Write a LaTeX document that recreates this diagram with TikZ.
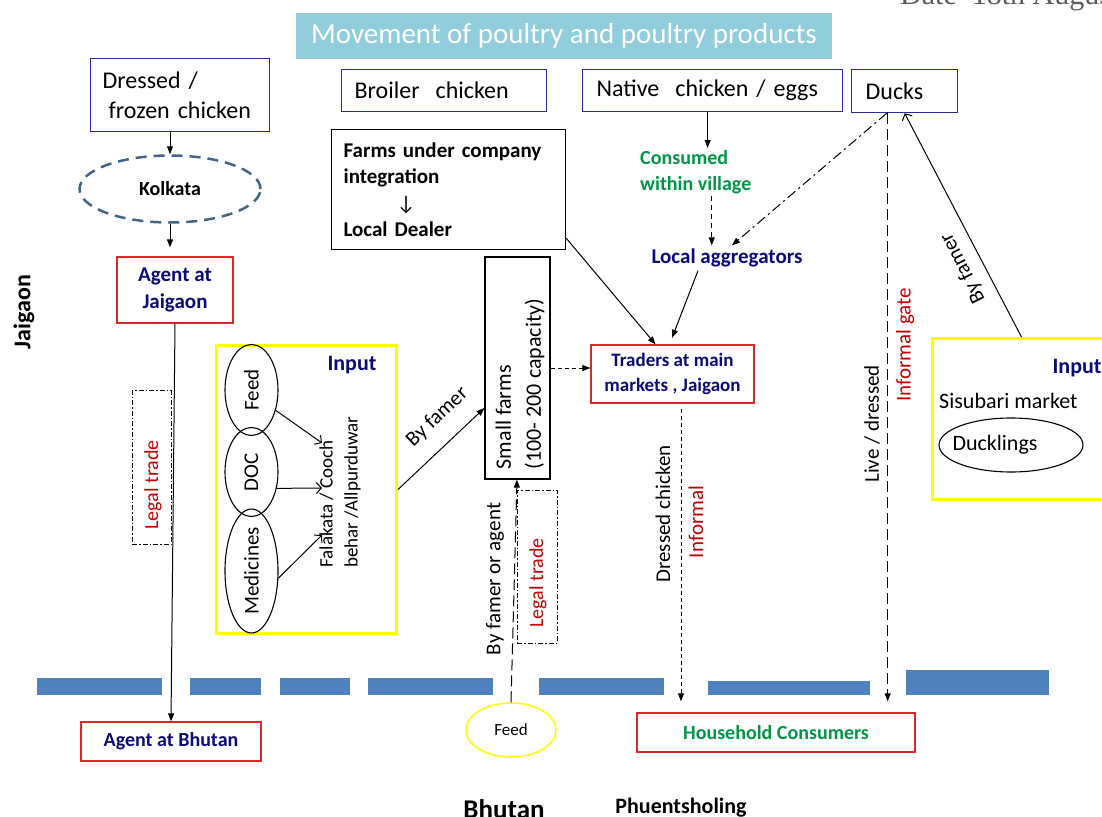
\documentclass[tikz,border=0pt]{standalone}
\usepackage{fontspec}
\setmainfont{Carlito}
\newfontfamily\datefont{Liberation Serif}
\usetikzlibrary{arrows.meta,shapes.geometric}

\definecolor{titleblue}{RGB}{146,205,221}
\definecolor{boxblue}{RGB}{40,40,150}
\definecolor{boxred}{RGB}{220,40,40}
\definecolor{navytext}{RGB}{10,10,120}
\definecolor{redtext}{RGB}{192,0,0}
\definecolor{greentext}{RGB}{0,150,70}
\definecolor{steelline}{RGB}{68,100,135}
\definecolor{borderblue}{RGB}{79,129,189}
\definecolor{markyellow}{RGB}{255,255,0}
\definecolor{dategray}{RGB}{90,90,90}

\newcommand\fsz[2]{\fontsize{#1}{#2}\selectfont}

\tikzset{
  bluebox/.style={draw=boxblue, line width=1.3pt},
  redbox/.style={draw=boxred, line width=1.3pt},
  blkbox/.style={draw=black, line width=1.2pt},
  ybox/.style={draw=markyellow, line width=3pt},
  arr/.style={line width=1pt, -{Triangle[length=8pt,width=6pt]}},
  barb/.style={line width=1pt, -{Straight Barb[length=5pt,width=11pt]}},
  shortdash/.style={dash pattern=on 4pt off 3pt},
  longdash/.style={dash pattern=on 11pt off 5pt},
  dashdot/.style={dash pattern=on 10pt off 4pt on 2pt off 4pt},
  finedashdot/.style={draw=black, line width=0.9pt, dash pattern=on 5pt off 2pt on 1.5pt off 2pt},
  vlabel/.style={rotate=90, font=\fsz{21}{25}},
}

\begin{document}
\begin{tikzpicture}[x=1pt,y=-1pt]
\useasboundingbox (0,0) rectangle (1102,816);

% heading
\node[fill=titleblue, minimum width=536pt, minimum height=46pt, inner sep=0pt,
      text=white, font=\fsz{29}{34}] (title) at (564,36)
      {Movement of poultry and poultry products};
\node[anchor=base west, inner sep=0pt, text=dategray, font=\datefont\fsz{30}{36}]
      (date) at (900,5) {Date\ \ 18th August};

% product boxes
\node[bluebox, anchor=north west, minimum height=73pt, text width=155pt,
      inner xsep=12pt, align=left, font=\fsz{24}{30}] (dressed) at (90,58)
      {Dressed /\\\hspace*{6pt}frozen chicken};
\node[bluebox, anchor=north west, minimum height=42pt, text width=179pt,
      inner xsep=13pt, align=left, font=\fsz{24}{28}] (broiler) at (341,69)
      {Broiler\ \ chicken};
\node[bluebox, anchor=north west, minimum height=42pt, text width=232pt,
      inner xsep=14pt, align=left, font=\fsz{24}{28}] (native) at (582,69)
      {Native\ \ chicken / eggs};
\node[bluebox, anchor=north west, minimum height=43pt, text width=78pt,
      inner xsep=14pt, align=left, font=\fsz{24}{28}] (ducks) at (851,69)
      {Ducks};

% left chain
\node[ellipse, draw=steelline, line width=2.5pt, dash pattern=on 11pt off 7pt,
      minimum width=181pt, minimum height=67pt, inner sep=0pt,
      font=\bfseries\fsz{20}{24}] (kolkata) at (170,189) {Kolkata};
\node[redbox, minimum width=116pt, minimum height=66pt, align=center,
      text=navytext, font=\bfseries\fsz{21}{27}] (agentj) at (175,290)
      {Agent at\\Jaigaon};
\node[redbox, minimum width=180pt, minimum height=39pt, text=navytext,
      font=\bfseries\fsz{20}{24}] (agentb) at (171,741.5) {Agent at Bhutan};
\node[finedashdot, minimum width=39pt, minimum height=154pt, inner sep=0pt]
      (legalboxA) at (151.5,467.5) {};
\node[rotate=90, text=redtext, font=\fsz{20}{24}] (legaltextA) at (153,485)
      {Legal trade};
\node[rotate=90, font=\bfseries\fsz{24}{28}] (jaigaon) at (24,312) {Jaigaon};

% input block (left)
\node[ybox, anchor=north west, minimum width=180pt, minimum height=288pt,
      inner sep=0pt] (inputL) at (215,344) {};
\node[text=navytext, font=\bfseries\fsz{22}{26}] (inputLlabel) at (352,365) {Input};
\node[ellipse, draw, line width=1.1pt, minimum width=53pt, minimum height=91pt,
      inner sep=0pt, font=\fsz{21}{25}] (feedE) at (251.5,390) {\rotatebox{90}{Feed}};
\node[ellipse, draw, line width=1.1pt, minimum width=53pt, minimum height=89pt,
      inner sep=0pt, font=\fsz{21}{25}] (docE) at (251.5,472) {\rotatebox{90}{DOC}};
\node[ellipse, draw, line width=1.1pt, minimum width=53pt, minimum height=107pt,
      inner sep=0pt, font=\fsz{21}{25}] (medE) at (251.5,571) {\rotatebox{90}{Medicines}};
\node[rotate=90, align=left, font=\fsz{19}{25}] (falakata) at (340,492)
      {Falakata / Cooch\\behar /Allpurduwar};
\coordinate (fkA) at (322,443);
\coordinate (fkB) at (322,488);
\coordinate (fkC) at (322,535);

% broiler chain
\node[blkbox, anchor=north west, minimum height=120pt, text width=210pt,
      inner xsep=12pt, align=left, font=\bfseries\fsz{21}{26.5}] (farms) at (331,129)
      {Farms under company\\integration\\\hspace*{53pt}{\mdseries ↓}\\Local Dealer};
\node[blkbox, minimum width=65pt, minimum height=222pt, inner sep=0pt]
      (smallfarms) at (517.5,368) {};
\node[rotate=90, align=left, font=\fsz{22}{30}] (smallfarmsText) at (520,384)
      {Small farms\\(100- 200 capacity)};
\node[redbox, minimum width=163pt, minimum height=58pt, align=center,
      text=navytext, font=\bfseries\fsz{19}{25}] (traders) at (672.5,374)
      {Traders at main\\markets , Jaigaon};

% native chicken and ducks
\node[anchor=north west, inner sep=2pt, align=left, text=greentext,
      font=\bfseries\fsz{20}{26}] (consumed) at (638,148) {Consumed\\within village};
\node[text=navytext, font=\bfseries\fsz{21}{25}] (aggregators) at (727,258)
      {Local aggregators};

% vertical flow labels
\node[vlabel] (dressedlbl) at (663,514) {Dressed chicken};
\node[vlabel, text=redtext] (informallbl) at (696,522) {Informal};
\node[vlabel] (livelbl) at (872,424) {Live / dressed};
\node[vlabel, text=redtext] (gatelbl) at (905,345) {Informal gate};

% input block (right)
\node[ybox, anchor=north west, minimum width=200pt, minimum height=161pt,
      inner sep=0pt] (sisubari) at (931,337) {};
\node[text=navytext, font=\bfseries\fsz{22}{26}] (inputRlabel) at (1077,368) {Input};
\node[anchor=base west, inner sep=0pt, font=\fsz{22}{26}] (sisubariname)
      at (939,408) {Sisubari market};
\node[ellipse, draw, line width=1.1pt, minimum width=144pt, minimum height=54pt,
      inner sep=0pt] (ducklings) at (1011,445) {};
\node[font=\fsz{22}{26}] (ducklingsText) at (995,445) {Ducklings};
\node[rotate=117, font=\fsz{21}{25}] (byfamerR) at (963,268) {By famer};

% Bhutan side
\node[ellipse, draw=markyellow, line width=1.5pt, minimum width=90pt,
      minimum height=54pt, inner sep=0pt, font=\fsz{17}{20}] (feedB) at (511,730) {Feed};
\node[vlabel] (byagent) at (495,579) {By famer or agent};
\node[finedashdot, minimum width=40pt, minimum height=153pt, inner sep=0pt]
      (legalboxB) at (537,566.5) {};
\node[rotate=90, text=redtext, font=\fsz{20}{24}] (legaltextB) at (538,583)
      {Legal trade};
\node[redbox, minimum width=278pt, minimum height=39pt, text=greentext,
      font=\bfseries\fsz{20}{24}] (household) at (776,732.5) {Household Consumers};
\node[anchor=base, inner sep=0pt, font=\bfseries\fsz{27}{32}] (bhutan) at (504,818) {Bhutan};
\node[anchor=base, inner sep=0pt, font=\bfseries\fsz{22}{26}] (phuent) at (681,813) {Phuentsholing};

% border line
\fill[borderblue] (37,678) rectangle (162,695);
\fill[borderblue] (190,678) rectangle (261,695);
\fill[borderblue] (280,678) rectangle (350,695);
\fill[borderblue] (368,678) rectangle (493,695);
\fill[borderblue] (539,678) rectangle (664,695);
\fill[borderblue] (708,681) rectangle (870,695);
\fill[borderblue] (906,670) rectangle (1049,695);

% connectors
\draw[arr] (kolkata.north |- dressed.south) -- (kolkata.north);
\draw[arr, shorten >=9pt] (kolkata.south) -- (kolkata.south |- agentj.north);
\draw[arr] (agentj.south) -- (agentb.north);

\draw[barb] (feedE.-40) -- (fkA);
\draw[barb] (docE.-33) -- (fkB);
\draw[barb] (medE.-15) -- (fkC);
\draw[arr] (inputL.east) -- ([yshift=-40pt]smallfarms.west)
      node[pos=0.66, sloped, above=13pt, font=\fsz{21}{25}] {By famer};

\draw[arr, shortdash] (smallfarms.east) -- (smallfarms.east -| traders.west);
\draw[arr] ([yshift=12pt]farms.south east) -- ([xshift=-17pt]traders.north);
\draw[arr, shorten >=7pt] ([xshift=-29pt]aggregators.south) -- ([xshift=-3pt]traders.north);

\draw[arr] ([xshift=-5pt]native.south) -- ([xshift=-5pt]native.south |- consumed.north);
\draw[arr, dash pattern=on 5pt off 4pt] ([xshift=16pt]consumed.south)
      -- ([xshift=16pt]consumed.south |- aggregators.north);
\draw[arr, dashdot] ([xshift=-18pt]ducks.south) -- ([xshift=5pt]aggregators.north);

\draw[arr, longdash, shorten >=11pt] ([xshift=-17pt]ducks.south)
      -- ([xshift=-17pt]ducks.south |- household.north);
\draw[arr, shortdash, shorten <=5pt, shorten >=11pt] ([xshift=8.5pt]traders.south)
      -- ([xshift=8.5pt]traders.south |- household.north);
\draw[barb] ([xshift=-11pt]sisubari.north) -- (ducks.south);

\draw[arr, longdash] (feedB.north) -- ([xshift=-0.5pt]smallfarms.south);
\end{tikzpicture}
\end{document}
